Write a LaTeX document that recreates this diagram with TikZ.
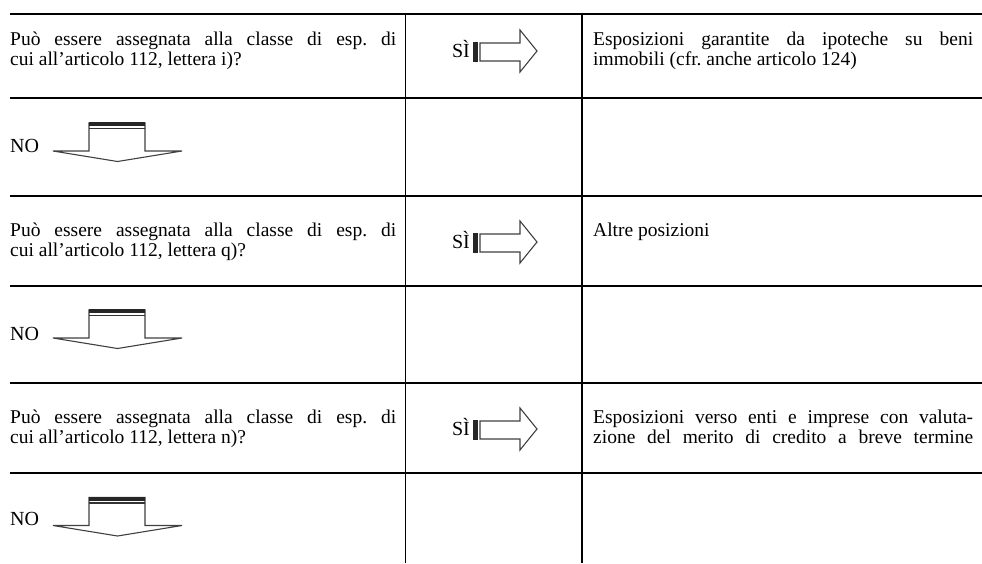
\documentclass[tikz,border=0pt]{standalone}
\usepackage{fontspec}
\setmainfont{Liberation Serif}
\frenchspacing
\tikzset{
  gridline/.style={line width=1.8pt, black},
  txt/.style={anchor=base west, inner sep=0pt, font=\fontsize{19.5}{19.5}\selectfont},
  lbl/.style={inner sep=0pt, font=\fontsize{20}{19}\selectfont},
  arrowline/.style={line width=1.1pt, draw=black!75, fill=white, line join=miter},
  siarr/.pic={
    \fill[black!85] (0,-9) rectangle (4.5,11);
    \draw[arrowline] (7,-8) -- (47,-8) -- (47,-21) -- (64,0) -- (47,21) -- (47,10) -- (7,10) -- cycle;
  },
  noarr/.pic={
    \draw[arrowline] (-28.5,0) -- (27.5,0) -- (27.5,28) -- (64.5,28) -- (0,38.5) -- (-64.5,28) -- (-28.5,28) -- cycle;
    \fill[black!85] (-28.5,-1) rectangle (27.5,3);
    \draw[black!80, line width=1.6pt] (-28.5,5.5) -- (27.5,5.5);
  }
}
\begin{document}
\begin{tikzpicture}[x=1pt,y=-1pt]
\useasboundingbox (0,0) rectangle (982,563);
% table rules
\foreach \yy in {14,98,196,286,383,473} \draw[gridline] (10,\yy) -- (982,\yy);
\draw[gridline] (405.5,14) -- (405.5,563);
\draw[gridline] (582,14) -- (582,563);

% row 1
\node[txt] (q1a) at (10,45.5) {\makebox[386pt][s]{Può essere assegnata alla classe di esp. di}};
\node[txt] (q1b) at (10,65) {cui all’articolo 112, lettera i)?};
\node[lbl, anchor=base east] (si1) at (470,57.5) {SÌ};
\pic (sa1) at (473,51) {siarr};
\node[txt] (r1a) at (593,45.5) {\makebox[380pt][s]{Esposizioni garantite da ipoteche su beni}};
\node[txt] (r1b) at (593,65) {immobili (cfr. anche articolo 124)};

% row 2
\node[lbl, anchor=base west] (no1) at (10,152) {NO};
\pic (na1) at (117.5,123) {noarr};

% row 3
\node[txt] (q2a) at (10,236.5) {\makebox[386pt][s]{Può essere assegnata alla classe di esp. di}};
\node[txt] (q2b) at (10,256) {cui all’articolo 112, lettera q)?};
\node[lbl, anchor=base east] (si2) at (470,248.5) {SÌ};
\pic (sa2) at (473,242) {siarr};
\node[txt] (r2a) at (593,236.5) {Altre posizioni};

% row 4
\node[lbl, anchor=base west] (no2) at (10,340) {NO};
\pic (na2) at (117.5,310) {noarr};

% row 5
\node[txt] (q3a) at (10,423.5) {\makebox[386pt][s]{Può essere assegnata alla classe di esp. di}};
\node[txt] (q3b) at (10,443) {cui all’articolo 112, lettera n)?};
\node[lbl, anchor=base east] (si3) at (470,435.5) {SÌ};
\pic (sa3) at (473,429) {siarr};
\node[txt] (r3a) at (593,423.5) {\makebox[380pt][s]{Esposizioni verso enti e imprese con valuta-}};
\node[txt] (r3b) at (593,443) {\makebox[380pt][s]{zione del merito di credito a breve termine}};

% row 6
\node[lbl, anchor=base west] (no3) at (10,525) {NO};
\pic (na3) at (117.5,497.5) {noarr};
\end{tikzpicture}
\end{document}
